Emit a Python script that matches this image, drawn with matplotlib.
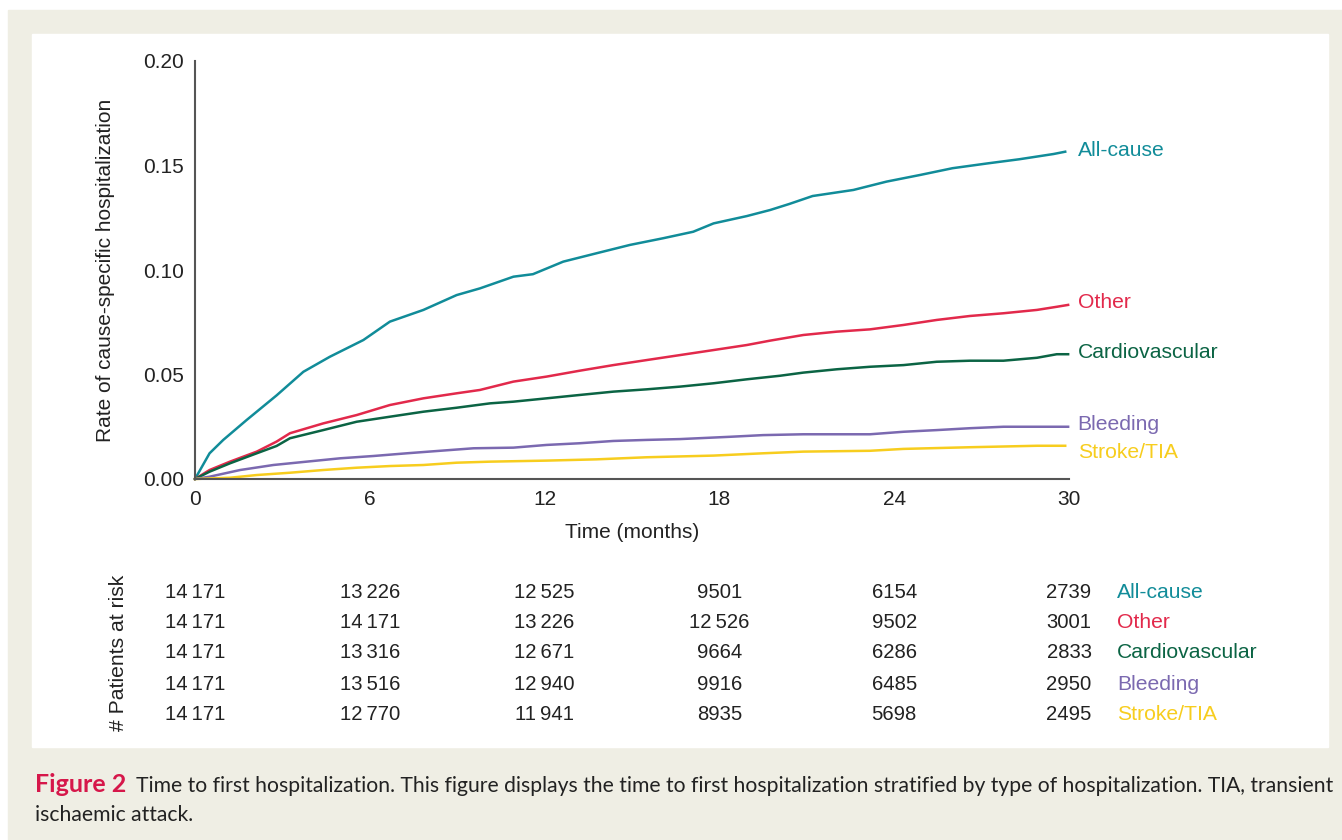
import matplotlib
matplotlib.use("Agg")
import matplotlib.pyplot as plt
from matplotlib.patches import Rectangle

# cumulative rate (months, rate)
all_cause_t = [0, 0.5, 0.97, 1.77, 2.8, 3.72, 4.63, 5.78, 6.69, 7.84, 8.98, 9.78, 10.93, 11.6,
               12.64, 13.78, 14.93, 16.07, 17.1, 17.8, 18.94, 19.74, 20.4, 21.2, 22.6, 23.74,
               24.9, 26.0, 27.2, 28.3, 29.47, 29.87]
all_cause_v = [0, 0.0123, 0.0187, 0.0282, 0.040, 0.0513, 0.0585, 0.0665, 0.0753, 0.0809, 0.088,
               0.0912, 0.0968, 0.098, 0.104, 0.108, 0.112, 0.1152, 0.1183, 0.1223, 0.1258, 0.1287,
               0.1316, 0.1354, 0.1383, 0.1423, 0.1455, 0.1487, 0.151, 0.153, 0.1555, 0.1566]

other_t = [0, 0.5, 1.2, 2.12, 2.8, 3.26, 4.4, 5.55, 6.69, 7.84, 8.98, 9.78, 10.93, 12.07, 13.2,
           14.36, 15.5, 16.65, 17.8, 18.94, 19.74, 20.88, 22.03, 23.17, 24.32, 25.46, 26.6,
           27.75, 28.9, 29.58, 29.97]
other_v = [0, 0.0043, 0.0083, 0.0131, 0.0179, 0.0219, 0.0266, 0.0306, 0.0354, 0.0386, 0.041,
           0.0426, 0.0466, 0.049, 0.0518, 0.0545, 0.0569, 0.0593, 0.0617, 0.0641, 0.0662, 0.0689,
           0.0705, 0.0716, 0.0737, 0.0761, 0.078, 0.0793, 0.0809, 0.0824, 0.0833]

cardio_t = [0, 0.5, 1.2, 2.12, 2.8, 3.26, 4.4, 5.55, 6.69, 7.84, 8.98, 10.13, 10.93, 12.07, 13.2,
            14.36, 15.5, 16.65, 17.8, 18.94, 20.08, 20.88, 22.03, 23.17, 24.32, 25.46, 26.6,
            27.75, 28.9, 29.58, 29.97]
cardio_v = [0, 0.0035, 0.0075, 0.0123, 0.0158, 0.0195, 0.0234, 0.0274, 0.0298, 0.0322, 0.0341,
            0.0362, 0.037, 0.0386, 0.0402, 0.0418, 0.0429, 0.0442, 0.0458, 0.0477, 0.0494,
            0.0509, 0.0525, 0.0537, 0.0545, 0.0561, 0.0566, 0.0566, 0.058, 0.0597, 0.0597]

bleed_t = [0, 0.5, 1.55, 2.69, 3.83, 4.98, 6.12, 7.27, 8.41, 9.56, 10.93, 12.07, 13.2, 14.36,
           15.5, 16.65, 18.37, 19.5, 20.88, 23.17, 24.32, 25.46, 26.6, 27.75, 29.97]
bleed_v = [0, 0.0011, 0.0043, 0.0067, 0.0083, 0.0099, 0.011, 0.0123, 0.0135, 0.0147, 0.015,
           0.0163, 0.0171, 0.0182, 0.0187, 0.0191, 0.0202, 0.021, 0.0214, 0.0214, 0.0226,
           0.0234, 0.0243, 0.025, 0.025]

stroke_t = [0, 1.2, 2.12, 3.26, 4.4, 5.55, 6.69, 7.84, 8.98, 10.13, 12.07, 13.78, 15.5, 17.8,
            19.5, 20.88, 23.17, 24.32, 26.6, 28.9, 29.87]
stroke_v = [0, 0.0006, 0.0019, 0.003, 0.0043, 0.0054, 0.0062, 0.0067, 0.0078, 0.0083, 0.0088,
            0.0094, 0.0104, 0.0112, 0.0123, 0.0131, 0.0135, 0.0144, 0.0152, 0.0159, 0.0159]

labels = ["All-cause", "Other", "Cardiovascular", "Bleeding", "Stroke/TIA"]
colors = ["#118c99", "#e2294b", "#0b6444", "#7b69b0", "#f7cd1e"]
label_y = [0.1572, 0.0845, 0.0605, 0.0262, 0.0128]

risk_months = [0, 6, 12, 18, 24, 30]
risk_all = ["14\u2009171", "13\u2009226", "12\u2009525", "9501", "6154", "2739"]
risk_other = ["14\u2009171", "14\u2009171", "13\u2009226", "12\u2009526", "9502", "3001"]
risk_cardio = ["14\u2009171", "13\u2009316", "12\u2009671", "9664", "6286", "2833"]
risk_bleed = ["14\u2009171", "13\u2009516", "12\u2009940", "9916", "6485", "2950"]
risk_stroke = ["14\u2009171", "12\u2009770", "11\u2009941", "8935", "5698", "2495"]

W, H = 1342, 840
fig = plt.figure(figsize=(W / 100, H / 100), dpi=100)
plt.rcParams['font.family'] = ['Liberation Sans', 'DejaVu Sans']
FS = 15

# beige frame and white panel
fig.patches.append(Rectangle((8 / W, 0), 1 - 8 / W, 1 - 10 / H, transform=fig.transFigure,
                             color="#efeee4", zorder=-2))
fig.patches.append(Rectangle((32 / W, 1 - 747 / H), (1328 - 32) / W, (747 - 34) / H,
                             transform=fig.transFigure, color="white", zorder=-1))

ax = fig.add_axes([195 / W, 1 - 479 / H, (1069 - 195) / W, (479 - 61) / H])
ax.patch.set_alpha(0)

series = [(all_cause_t, all_cause_v), (other_t, other_v), (cardio_t, cardio_v),
          (bleed_t, bleed_v), (stroke_t, stroke_v)]
for (t, v), c in zip(series, colors):
    ax.plot(t, v, color=c, lw=1.8, clip_on=False, solid_joinstyle="miter")

ax.set_xlim(0, 30)
ax.set_ylim(0, 0.20)
ax.set_xticks(risk_months)
ax.set_yticks([0, 0.05, 0.10, 0.15, 0.20])
ax.set_yticklabels(["0.00", "0.05", "0.10", "0.15", "0.20"])
ax.tick_params(length=0, labelsize=FS, colors="#222222", pad=8)
for s in ["top", "right"]:
    ax.spines[s].set_visible(False)
for s in ["left", "bottom"]:
    ax.spines[s].set_color("#555555")
    ax.spines[s].set_linewidth(1.5)
ax.set_xlabel("Time (months)", fontsize=FS, color="#222222", labelpad=10)
ax.set_ylabel("Rate of cause-specific hospitalization", fontsize=FS, color="#222222")
ax.yaxis.set_label_coords(-0.0915, 0.5)

for lab, c, y in zip(labels, colors, label_y):
    ax.text(30.3, y, lab, color=c, fontsize=FS + 0.2, va="center", ha="left")

# numbers at risk table
rows = [risk_all, risk_other, risk_cardio, risk_bleed, risk_stroke]
row_px = [592, 623, 653, 684, 714]
for row, ypx, lab, c in zip(rows, row_px, labels, colors):
    yf = 1 - ypx / H
    for m, val in zip(risk_months, row):
        xf = ax.transData.transform((m, 0))[0] / W
        fig.text(xf, yf, val, fontsize=FS - 0.4, color="#222222", ha="center", va="center")
    fig.text(1117 / W, yf, lab, fontsize=FS + 0.2, color=c, ha="left", va="center")
fig.text(119 / W, 1 - 653 / H, "# Patients at risk", fontsize=FS + 0.2, color="#222222",
         rotation=90, ha="center", va="center")

# caption
cap = fig.text(35 / W, 1 - 792 / H, "Figure 2", fontsize=18, fontweight="bold",
               color="#d6174a", family="Lato", va="baseline")
fig.canvas.draw()
bb = cap.get_window_extent()
fig.text((bb.x1 + 10) / W, 1 - 792 / H,
         "Time to first hospitalization. This figure displays the time to first hospitalization "
         "stratified by type of hospitalization. TIA, transient",
         fontsize=15.2, color="#222222", family="Lato", va="baseline")
fig.text(35 / W, 1 - 821 / H, "ischaemic attack.", fontsize=15.2, color="#222222",
         family="Lato", va="baseline")

fig.savefig("out.png", dpi=100)
